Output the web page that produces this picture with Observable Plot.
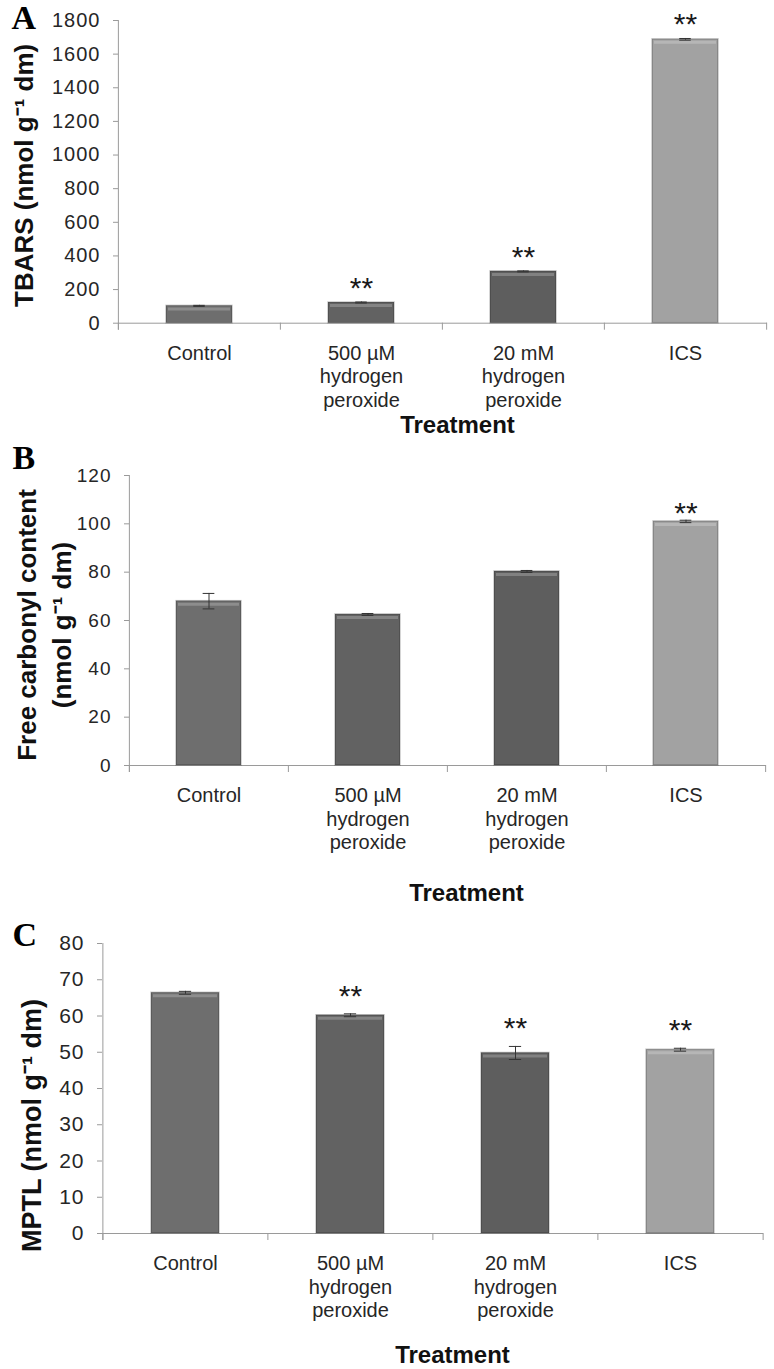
<!DOCTYPE html>
<html><head><meta charset="utf-8">
<script src="https://cdn.jsdelivr.net/npm/d3@7"></script>
<script src="https://cdn.jsdelivr.net/npm/@observablehq/plot@0.6"></script>
<style>
body{margin:0;background:#fff;}
#wrap{position:relative;width:774px;height:1369px;overflow:hidden;}
.panel{position:absolute;left:0;}
svg [aria-label="y-axis tick label"] text, svg [aria-label="cat-label"] text {letter-spacing:1px}
svg [aria-label="treatment"] text {letter-spacing:0.5px}
svg [aria-label="stars"] text {letter-spacing:3px}
</style></head><body><div id="wrap"></div>
<script>
// ---- data ----
const categories = ["Control", "500 µM\nhydrogen\nperoxide", "20 mM\nhydrogen\nperoxide", "ICS"];
const barFills = ["#6e6e6e", "#626262", "#5e5e5e", "#a2a2a2"];

const tbarsValues = [103, 123, 308, 1688];
const tbarsErrors = [3, 3, 3, 5];
const tbarsStars = ["", "**", "**", "**"];
const tbarsTicks = [0, 200, 400, 600, 800, 1000, 1200, 1400, 1600, 1800];

const carbonylValues = [68, 62.5, 80.3, 101];
const carbonylErrors = [3.2, 0.4, 0.4, 0.5];
const carbonylStars = ["", "", "", "**"];
const carbonylTicks = [0, 20, 40, 60, 80, 100, 120];

const mptlValues = [66.4, 60.2, 49.8, 50.7];
const mptlErrors = [0.4, 0.4, 1.8, 0.4];
const mptlStars = ["", "**", "**", "**"];
const mptlTicks = [0, 10, 20, 30, 40, 50, 60, 70, 80];

const xTitle = "Treatment";

function panel(o) {
  const W = 774;
  const data = categories.map((c, i) => ({cat: c, v: o.values[i], lo: o.values[i] - o.errors[i], hi: o.values[i] + o.errors[i], star: o.stars[i]}));
  const step = (W - o.ml - o.mr) / 4;
  const bw = step * 0.41;
  const capInset = (bw - 12) / 2;
  const yMax = o.ticks[o.ticks.length - 1];
  const svg = Plot.plot({
    width: W, height: o.height,
    marginLeft: o.ml, marginRight: o.mr, marginTop: o.mt, marginBottom: o.mb,
    style: {fontFamily: "'Liberation Sans', Arial, sans-serif", background: "transparent", overflow: "visible", color: "#222"},
    x: {domain: categories, paddingInner: 0.59, paddingOuter: 0.295, axis: null},
    y: {domain: [0, yMax], axis: null},
    color: {domain: categories, range: barFills},
    marks: [
      Plot.axisY({ticks: o.ticks, tickSize: 5, tickPadding: 13, fontSize: o.tickFont, stroke: "#9a9a9a", fill: "#262626", label: null, tickFormat: d => String(d)}),
      Plot.ruleY([0], {stroke: "#9a9a9a"}),
      Plot.ruleX([categories[0]], {x: d => d, y1: 0, y2: yMax, dx: -step / 2, insetTop: 7, stroke: "#9a9a9a"}),
      Plot.ruleX(categories, {x: d => d, y1: 0, y2: 0, dx: -step / 2, insetTop: 7, stroke: "#9a9a9a"}),
      Plot.ruleX([categories[3]], {x: d => d, y1: 0, y2: 0, dx: step / 2, insetTop: 7, stroke: "#9a9a9a"}),
      Plot.barY(data, {x: "cat", y: "v", fill: "cat", stroke: "rgba(0,0,0,0.22)", strokeWidth: 1.5}),
      Plot.tickY(data, {x: "cat", y: "v", dy: 3, inset: 2, stroke: "rgba(255,255,255,0.22)", strokeWidth: 3}),
      Plot.ruleX(data, {x: "cat", y1: "lo", y2: "hi", stroke: "#333"}),
      Plot.tickY(data, {x: "cat", y: "lo", inset: capInset, stroke: "#333"}),
      Plot.tickY(data, {x: "cat", y: "hi", inset: capInset, stroke: "#333"}),
      Plot.text(data, {x: "cat", y: "hi", text: "star", lineAnchor: "bottom", dy: o.starDy, fontSize: 30, fill: "#1a1a1a", ariaLabel: "stars"}),
      Plot.text(data, {x: "cat", text: "cat", frameAnchor: "bottom", lineAnchor: "top", textAnchor: "middle", dy: 20, fontSize: 20, lineHeight: 1.17, fill: "#262626", ariaLabel: "cat-label"}),
      Plot.text([xTitle], {frameAnchor: "bottom", lineAnchor: "bottom", textAnchor: "middle", dx: o.tDx, dy: o.tDy, fontSize: 24, fontWeight: "bold", fill: "#111", ariaLabel: "treatment"}),
      Plot.text([o.yLabel], {frameAnchor: "left", rotate: -90, lineAnchor: "bottom", textAnchor: "middle", dx: o.yDx, dy: o.yDy, fontSize: o.yFont, fontWeight: "bold", lineHeight: 1.31, fill: "#111"}),
      Plot.text([o.letter], {frameAnchor: "top-left", textAnchor: "start", lineAnchor: "bottom", dx: o.lDx, dy: o.lDy, fontFamily: "'Liberation Serif', 'Times New Roman', serif", fontSize: 34, fontWeight: "bold", fill: "#000"})
    ]
  });
  const div = document.createElement("div");
  div.className = "panel";
  div.style.top = o.top + "px";
  div.appendChild(svg);
  document.getElementById("wrap").appendChild(div);
}

panel({top: 0, height: 440, ml: 118, mr: 7, mt: 20, mb: 117.3,
  values: tbarsValues, errors: tbarsErrors, stars: tbarsStars, ticks: tbarsTicks, tickFont: 20,
  starDy: -4, tDx: 14.5, tDy: 109.3,
  yLabel: "TBARS (nmol g⁻¹ dm)", yFont: 26, yDx: -86, yDy: 3.5,
  letter: "A", lDx: -107, lDy: 8});

panel({top: 440, height: 465, ml: 129, mr: 8, mt: 35, mb: 140,
  values: carbonylValues, errors: carbonylErrors, stars: carbonylStars, ticks: carbonylTicks, tickFont: 19,
  starDy: 3, tDx: 18.5, tDy: 135,
  yLabel: "Free carbonyl content\n(nmol g⁻¹ dm)", yFont: 26, yDx: -59, yDy: 4.5,
  letter: "B", lDx: -117, lDy: -7});

panel({top: 905, height: 464, ml: 102, mr: 11, mt: 38, mb: 136,
  values: mptlValues, errors: mptlErrors, stars: mptlStars, ticks: mptlTicks, tickFont: 21,
  starDy: -8, tDx: 19.5, tDy: 129,
  yLabel: "MPTL (nmol g⁻¹ dm)", yFont: 27, yDx: -62, yDy: 37,
  letter: "C", lDx: -90, lDy: 2});
</script>
</body></html>
